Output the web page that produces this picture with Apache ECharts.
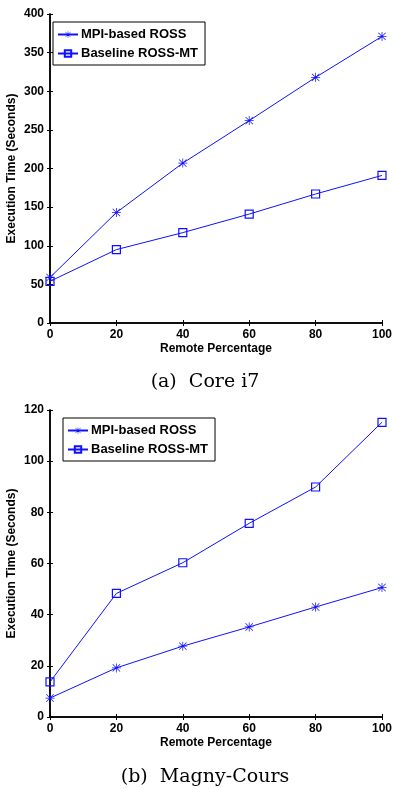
<!DOCTYPE html>
<html>
<head>
<meta charset="utf-8">
<script src="https://cdn.jsdelivr.net/npm/echarts@6/dist/echarts.min.js"></script>
<style>
html,body{margin:0;padding:0;background:#fff;}
#c{width:393px;height:789px;}
</style>
</head>
<body>
<div id="c"></div>
<script>
// ---- data ----
var remotePct = [0, 20, 40, 60, 80, 100];
var seriesNames = ['MPI-based ROSS', 'Baseline ROSS-MT'];
// (a) Core i7
var coreI7_mpi = [59, 143, 207, 262, 318, 371];
var coreI7_baseline = [54, 95, 117, 141, 167, 191];
// (b) Magny-Cours
var magny_mpi = [7.4, 19.2, 27.7, 35.2, 43, 50.6];
var magny_baseline = [13.7, 48.3, 60.3, 75.7, 89.9, 115.2];
var captions = ['(a)  Core i7', '(b)  Magny-Cours'];
var xName = 'Remote Percentage';
var yName = 'Execution Time (Seconds)';

var BLUE = '#1010ff';
var ASTER = 'path://M9.2,0L10.8,0L10.8,20L9.2,20Z M0,9.2L20,9.2L20,10.8L0,10.8Z M2.3,1.2L18.8,17.7L17.7,18.8L1.2,2.3Z M17.7,1.2L18.8,2.3L2.3,18.8L1.2,17.7Z';

function pairs(xs, ys){ return xs.map(function(x,i){ return [x, ys[i]]; }); }

var chart = echarts.init(document.getElementById('c'), null, {renderer:'canvas'});
var labelFont = {fontFamily:'Liberation Sans, Arial, sans-serif', fontWeight:'bold', fontSize:12, color:'#000'};
var axLine = {lineStyle:{color:'#000', width:1.5}};

function xAxes(gi){
  return [
    {type:'value', gridIndex:gi, min:0, max:100, interval:20, position:'bottom',
     axisLine:axLine, axisTick:{inside:false, length:3, lineStyle:{color:'#000'}},
     axisLabel:Object.assign({margin:6}, labelFont), splitLine:{show:false},
     name:xName, nameLocation:'middle', nameGap:20, nameMoveOverlap:false,
     nameTextStyle:Object.assign({}, labelFont)},
    {type:'value', gridIndex:gi, min:0, max:100, interval:20, position:'top',
     axisLine:axLine, axisTick:{inside:false, length:3, lineStyle:{color:'#000'}},
     axisLabel:{show:false}, splitLine:{show:false}}
  ];
}
function yAxes(gi, max, step){
  return [
    {type:'value', gridIndex:gi, min:0, max:max, interval:step, position:'left',
     axisLine:axLine, axisTick:{inside:false, length:3, lineStyle:{color:'#000'}},
     axisLabel:Object.assign({margin:6}, labelFont), splitLine:{show:false},
     name:yName, nameLocation:'middle', nameGap:32, nameRotate:90, nameMoveOverlap:false,
     nameTextStyle:Object.assign({}, labelFont)},
    {type:'value', gridIndex:gi, min:0, max:max, interval:step, position:'right',
     axisLine:axLine, axisTick:{inside:false, length:3, lineStyle:{color:'#000'}},
     axisLabel:{show:false}, splitLine:{show:false}}
  ];
}
function mkSeries(name, data, xi, yi, asterisk){
  return {
    name:name, type:'line', xAxisIndex:xi, yAxisIndex:yi, data:data,
    symbol: asterisk ? ASTER : 'rect', symbolSize: asterisk ? 9 : 8,
    showAllSymbol:true, animation:false,
    lineStyle:{color:BLUE, width:1},
    itemStyle: asterisk ? {color:BLUE} : {color:'rgba(0,0,0,0)', borderColor:BLUE, borderWidth:1.2},
    emphasis:{disabled:true}
  };
}
function mkLegend(left, top){
  return {
    data:seriesNames, orient:'vertical', left:left, top:top,
    backgroundColor:'#fff', borderColor:'#000', borderWidth:1,
    padding:[6,7,5,4], itemWidth:20, itemHeight:8, itemGap:6,
    textStyle:Object.assign({}, labelFont, {fontSize:13, padding:[0,0,0,-2]}),
    selectedMode:false
  };
}

var option = {
  backgroundColor:'#fff',
  animation:false,
  grid:[
    {left:50, right:11, top:14, height:309, outerBoundsMode:'none', containLabel:false},
    {left:50, right:11, top:410, height:307, outerBoundsMode:'none', containLabel:false}
  ],
  xAxis: xAxes(0).concat(xAxes(1)),
  yAxis: yAxes(0, 400, 50).concat(yAxes(1, 120, 20)),
  legend:[ mkLegend(53,22), mkLegend(63,418) ],
  series:[
    mkSeries(seriesNames[0], pairs(remotePct, coreI7_mpi), 0, 0, true),
    mkSeries(seriesNames[1], pairs(remotePct, coreI7_baseline), 0, 0, false),
    mkSeries(seriesNames[0], pairs(remotePct, magny_mpi), 2, 2, true),
    mkSeries(seriesNames[1], pairs(remotePct, magny_baseline), 2, 2, false)
  ],
  graphic:[
    {type:'text', x:205, y:382, style:{text:captions[0], textAlign:'center', textVerticalAlign:'middle', font:'19px "DejaVu Serif", serif', fill:'#000'}},
    {type:'text', x:205, y:777, style:{text:captions[1], textAlign:'center', textVerticalAlign:'middle', font:'19px "DejaVu Serif", serif', fill:'#000'}}
  ]
};
chart.setOption(option);
</script>
</body>
</html>
